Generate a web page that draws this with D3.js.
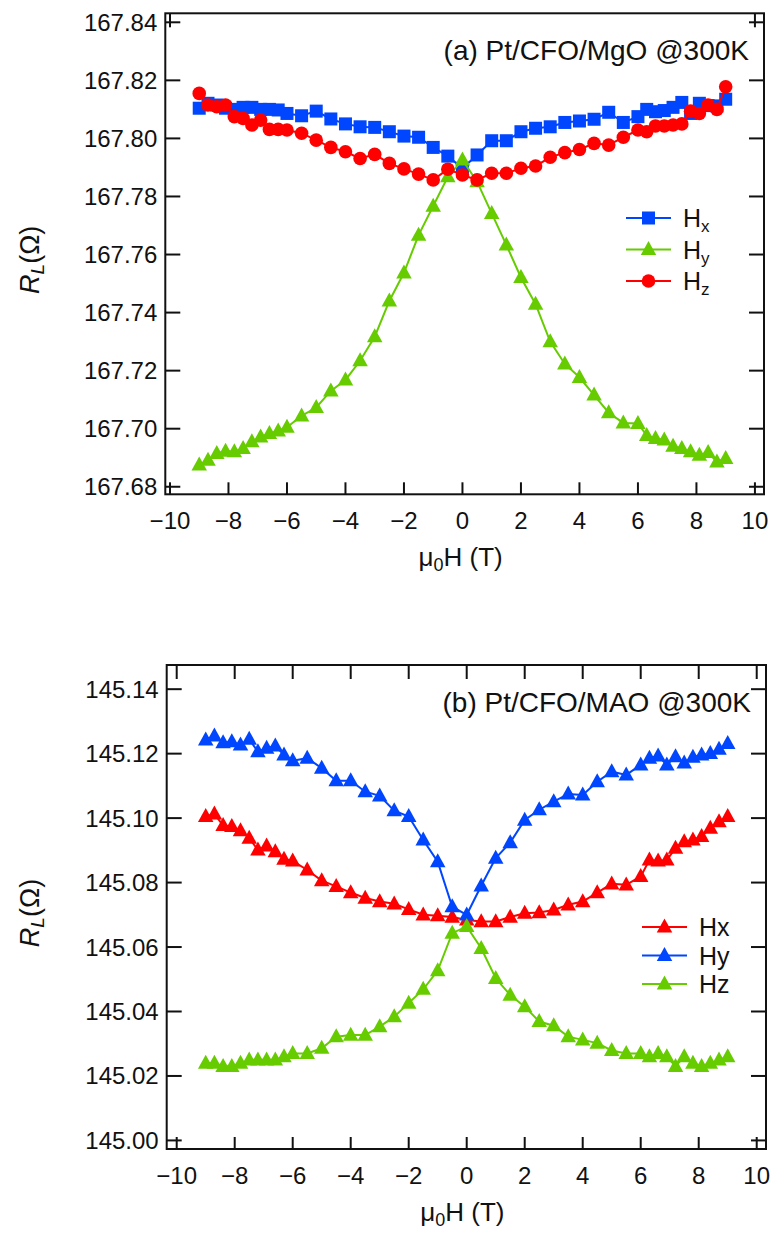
<!DOCTYPE html>
<html><head><meta charset="utf-8">
<script src="https://cdn.jsdelivr.net/npm/d3@7"></script>
<style>
body{margin:0;background:#fff}
svg{display:block}
text{font-family:"Liberation Sans",Arial,sans-serif;fill:#111}
</style>
</head><body>
<svg id="c" width="772" height="1237"></svg>
<script>
// ---- data ----
const fieldT = [-9,-8.7,-8.4,-8.1,-7.8,-7.5,-7.2,-6.9,-6.6,-6.3,-6,
  -5.5,-5,-4.5,-4,-3.5,-3,-2.5,-2,-1.5,-1,-0.5,0,
  0.5,1,1.5,2,2.5,3,3.5,4,4.5,5,5.5,
  6,6.3,6.6,6.9,7.2,7.5,7.8,8.1,8.4,8.7,9];

// panel (a) Pt/CFO/MgO
const aHx = [167.8104,167.8121,167.8115,167.8104,167.8100,167.8107,167.8107,167.8100,167.8100,167.8098,167.8086,
  167.8078,167.8094,167.8067,167.8050,167.8040,167.8038,167.8023,167.8008,167.8004,167.7969,167.7939,167.7897,
  167.7943,167.7992,167.7992,167.8023,167.8035,167.8040,167.8055,167.8060,167.8066,167.8090,167.8055,
  167.8075,167.8100,167.8092,167.8096,167.8107,167.8124,167.8086,167.8121,167.8113,167.8112,167.8135];
const aHy = [167.6875,167.6892,167.6915,167.6923,167.6921,167.6932,167.6955,167.6972,167.6984,167.6992,167.7005,
  167.7044,167.7073,167.7130,167.7168,167.7234,167.7317,167.7440,167.7537,167.7667,167.7767,167.7868,167.7926,
  167.7851,167.7742,167.7633,167.7521,167.7429,167.7300,167.7223,167.7177,167.7116,167.7055,167.7020,
  167.7018,167.6977,167.6967,167.6961,167.6940,167.6932,167.6921,167.6909,167.6918,167.6886,167.6898];
const aHz = [167.8155,167.8115,167.8109,167.8115,167.8075,167.8069,167.8046,167.8063,167.8031,167.8031,167.8029,
  167.8018,167.7994,167.7969,167.7954,167.7931,167.7945,167.7914,167.7895,167.7877,167.7857,167.7894,167.7874,
  167.7857,167.7880,167.7880,167.7897,167.7905,167.7935,167.7951,167.7962,167.7983,167.7977,167.8004,
  167.8029,167.8023,167.8043,167.8043,167.8046,167.8050,167.8094,167.8086,167.8115,167.8100,167.8178];

// panel (b) Pt/CFO/MAO
const bHx = [145.1005,145.1013,145.0977,145.0974,145.0961,145.0938,145.0901,145.0914,145.0896,145.0873,145.0867,
  145.0839,145.0806,145.0788,145.0769,145.0752,145.0741,145.0734,145.0717,145.0700,145.0697,145.0693,145.0684,
  145.0679,145.0679,145.0693,145.0705,145.0707,145.0715,145.0731,145.0741,145.0769,145.0796,145.0793,
  145.0819,145.0870,145.0867,145.0870,145.0907,145.0927,145.0932,145.0943,145.0969,145.0989,145.1005];
const bHy = [145.1243,145.1255,145.1234,145.1237,145.1227,145.1245,145.1206,145.1217,145.1224,145.1196,145.1178,
  145.1186,145.1155,145.1116,145.1116,145.1082,145.1069,145.1023,145.1005,145.0932,145.0865,145.0725,145.0700,
  145.0790,145.0876,145.0924,145.0994,145.1026,145.1051,145.1075,145.1072,145.1113,145.1144,145.1134,
  145.1165,145.1186,145.1193,145.1165,145.1191,145.1171,145.1189,145.1196,145.1201,145.1214,145.1232];
const bHz = [145.0240,145.0240,145.0230,145.0230,145.0240,145.0250,145.0250,145.0250,145.0250,145.0260,145.0270,
  145.0270,145.0286,145.0322,145.0327,145.0327,145.0353,145.0384,145.0426,145.0469,145.0527,145.0643,145.0664,
  145.0596,145.0503,145.0451,145.0415,145.0369,145.0356,145.0322,145.0312,145.0302,145.0279,145.0270,
  145.0270,145.0260,145.0270,145.0260,145.0230,145.0260,145.0240,145.0230,145.0240,145.0250,145.0260];

const xTicks = [-10,-8,-6,-4,-2,0,2,4,6,8,10];
const aYTicks = [167.68,167.70,167.72,167.74,167.76,167.78,167.80,167.82,167.84];
const bYTicks = [145.00,145.02,145.04,145.06,145.08,145.10,145.12,145.14];

const BLUE = "#0046ff", RED = "#ff0000", GREEN = "#66cc00";

const svg = d3.select("#c");

function marker(g, shape, color, x, y) {
  if (shape === "square") {
    g.append("rect").attr("x", x-6.5).attr("y", y-6.5).attr("width", 13).attr("height", 13).attr("fill", color);
  } else if (shape === "circle") {
    g.append("circle").attr("cx", x).attr("cy", y).attr("r", 6.8).attr("fill", color);
  } else {
    const w = 15.5, h = 14;
    g.append("path").attr("d", `M${x},${y-h*0.6}L${x+w/2},${y+h*0.4}L${x-w/2},${y+h*0.4}Z`).attr("fill", color);
  }
}

function panel(cfg) {
  const x = d3.scaleLinear().domain(cfg.xDom).range([cfg.left, cfg.right]);
  const y = d3.scaleLinear().domain(cfg.yDom).range([cfg.bottom, cfg.top]);
  const g = svg.append("g");

  // series
  const line = d3.line().x(d => x(d[0])).y(d => y(d[1]));
  cfg.series.forEach(s => {
    const pts = fieldT.map((t, i) => [t, s.values[i]]);
    g.append("path").attr("d", line(pts)).attr("fill", "none").attr("stroke", s.color).attr("stroke-width", 2);
    const mg = g.append("g");
    pts.forEach(p => marker(mg, s.shape, s.color, x(p[0]), y(p[1])));
  });

  // frame
  g.append("rect").attr("x", cfg.left).attr("y", cfg.top)
    .attr("width", cfg.right-cfg.left).attr("height", cfg.bottom-cfg.top)
    .attr("fill", "none").attr("stroke", "#111").attr("stroke-width", 2);

  // y ticks left/right inward
  const ax = g.append("g").attr("stroke", "#111").attr("stroke-width", 2);
  cfg.yTicks.forEach(v => {
    ax.append("line").attr("x1", cfg.left).attr("x2", cfg.left+15).attr("y1", y(v)).attr("y2", y(v));
    ax.append("line").attr("x1", cfg.right).attr("x2", cfg.right-15).attr("y1", y(v)).attr("y2", y(v));
  });
  // x ticks bottom
  xTicks.forEach(v => {
    ax.append("line").attr("x1", x(v)).attr("x2", x(v)).attr("y1", cfg.bottom).attr("y2", cfg.bottom-12);
  });
  // x ticks top
  cfg.topTicks.forEach(v => {
    ax.append("line").attr("x1", x(v)).attr("x2", x(v)).attr("y1", cfg.top).attr("y2", cfg.top+14);
  });

  // labels
  cfg.yTicks.forEach(v => {
    g.append("text").attr("x", cfg.left-8).attr("y", y(v)+8.5).attr("text-anchor", "end")
      .attr("font-size", 24).text(d3.format(".2f")(v));
  });
  xTicks.forEach(v => {
    g.append("text").attr("x", x(v)).attr("y", cfg.bottom+35).attr("text-anchor", "middle")
      .attr("font-size", 24).text(d3.format("")(v).replace("-", "\u2212"));
  });

  // axis titles
  const xt = g.append("text").attr("x", (cfg.left+cfg.right)/2 - 4).attr("y", cfg.bottom+72)
    .attr("text-anchor", "middle").attr("font-size", 26);
  xt.append("tspan").text("\u03bc");
  xt.append("tspan").attr("font-size", 18).attr("dy", 5).text("0");
  xt.append("tspan").attr("dy", -5).text("H (T)");

  const yc = (cfg.top+cfg.bottom)/2;
  const yt = g.append("text").attr("transform", `translate(39,${yc+6}) rotate(-90)`)
    .attr("text-anchor", "middle").attr("font-size", 27);
  yt.append("tspan").attr("font-style", "italic").text("R");
  yt.append("tspan").attr("font-style", "italic").attr("font-size", 19).attr("dy", 5).text("L");
  yt.append("tspan").attr("dy", -5).text("(\u03a9)");

  // panel title
  g.append("text").attr("x", cfg.right-15).attr("y", cfg.top+47).attr("text-anchor", "end")
    .attr("font-size", 28).text(cfg.title);

  // legend
  cfg.series.forEach((s, i) => {
    const ly = cfg.legY + i*cfg.legDy;
    g.append("line").attr("x1", cfg.legX).attr("x2", cfg.legX+45).attr("y1", ly).attr("y2", ly)
      .attr("stroke", s.color).attr("stroke-width", 2);
    marker(g, s.shape, s.color, cfg.legX+22.5, ly);
    const t = g.append("text").attr("x", cfg.legX+57).attr("y", ly+9).attr("font-size", 25);
    if (cfg.subLegend) {
      t.append("tspan").text("H");
      t.append("tspan").attr("font-size", 17).attr("dy", 5).text(s.sub);
    } else {
      t.text("H" + s.sub);
    }
  });
}

panel({
  left: 165.3, right: 764, top: 13.3, bottom: 494.3,
  xDom: [-10.16, 10.31], yDom: [167.6774, 167.8431],
  yTicks: aYTicks, topTicks: [-10, 10],
  title: "(a) Pt/CFO/MgO @300K",
  series: [
    {values: aHx, color: BLUE, shape: "square", sub: "x"},
    {values: aHy, color: GREEN, shape: "tri", sub: "y"},
    {values: aHz, color: RED, shape: "circle", sub: "z"}
  ],
  legX: 626, legY: 218, legDy: 31.5, subLegend: true
});

panel({
  left: 166.7, right: 766, top: 665, bottom: 1149,
  xDom: [-10.345, 10.32], yDom: [144.99734, 145.1475],
  yTicks: bYTicks, topTicks: xTicks,
  title: "(b) Pt/CFO/MAO @300K",
  series: [
    {values: bHx, color: RED, shape: "tri", sub: "x"},
    {values: bHy, color: BLUE, shape: "tri", sub: "y"},
    {values: bHz, color: GREEN, shape: "tri", sub: "z"}
  ],
  legX: 642, legY: 927, legDy: 28.5, subLegend: false
});
</script>
</body></html>
